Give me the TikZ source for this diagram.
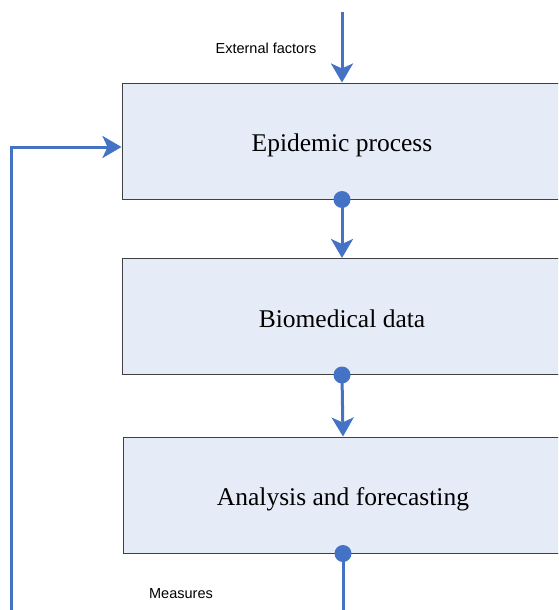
\documentclass[tikz,border=0pt]{standalone}
\usepackage{fontspec}
\setmainfont{Liberation Serif}
\setsansfont{Liberation Sans}
\usetikzlibrary{arrows.meta}

\definecolor{flowblue}{RGB}{68,114,196}
\definecolor{stagefill}{RGB}{230,236,247}

\begin{document}
\begin{tikzpicture}[x=1pt, y=-1pt,
  stage/.style={draw=black!75, line width=1pt, fill=stagefill, minimum width=440pt, minimum height=116pt, inner sep=0pt, text height=21pt, text depth=0pt, font=\fontsize{25.5}{28}\selectfont},
  flow/.style={flowblue, line width=3pt, -{Stealth[length=19pt, width=22pt, inset=5pt]}},
  plain/.style={flowblue, line width=3pt},
  tag/.style={font=\sffamily\fontsize{14.5}{17}\selectfont, inner sep=0pt}]
\useasboundingbox (0,0) rectangle (558,610);
\clip (0,0) rectangle (558,610);
\node[stage] (epi) at (342,141) {Epidemic process};
\node[stage] (bio) at (342,316.5) {Biomedical data};
\node[stage] (ana) at (343,495) {Analysis and forecasting};
\node[tag] (ext) at (266,48) {External factors};
\node[tag] (meas) at (181,594) {Measures};
% arrows
\coordinate (src) at (342,12);
\coordinate (fb) at (11,147);
\draw[flow] (src) -- (epi.north);
\draw[flow] (epi.south) -- (bio.north);
\draw[flow] (bio.south) -- (ana.north);
\draw[plain] (ana.south) -- ++(0,80);
\draw[flow] (11,640) -- (fb) -- (fb -| epi.west);
% dots
\foreach \n in {epi,bio,ana}
  \fill[flowblue] (\n.south) circle (8.5);
\end{tikzpicture}
\end{document}
